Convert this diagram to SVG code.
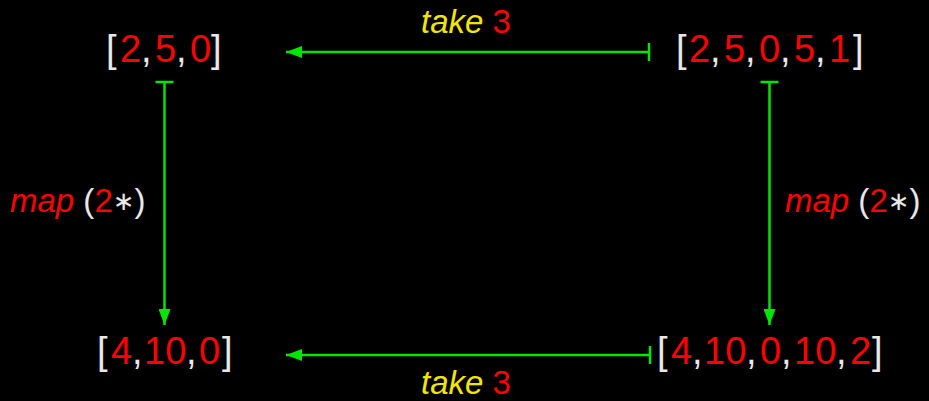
<svg xmlns="http://www.w3.org/2000/svg" width="929" height="401" viewBox="0 0 929 401">
<style>
.t{font-family:"Liberation Sans","DejaVu Sans",sans-serif;fill:#e8e8e8}
.n{font-size:38px}
.l{font-size:33px}
.r{fill:#ff0000}
.y{fill:#f2e600}
.i{font-style:italic}
.s{font-size:26px}
.e{stroke:#00e600;stroke-width:2.5;fill:none}
</style>
<defs>
<marker id="ah" viewBox="0 0 16 12" refX="16" refY="6" markerWidth="16" markerHeight="12" markerUnits="userSpaceOnUse" orient="auto">
<path d="M0,0 L16,6 L0,12 z" fill="#00e600"/>
</marker>
<marker id="bar" viewBox="0 0 4 20" refX="2" refY="10" markerWidth="4" markerHeight="20" markerUnits="userSpaceOnUse" orient="auto">
<path d="M2,1 L2,19" stroke="#00e600" stroke-width="2.5"/>
</marker>
</defs>
<rect width="929" height="401" fill="#000"/>
<g id="connectors">
<path class="e" d="M649,52 L286,52" marker-start="url(#bar)" marker-end="url(#ah)"/>
<path class="e" d="M650,355 L286,355" marker-start="url(#bar)" marker-end="url(#ah)"/>
<path class="e" d="M164.5,82 L164.5,325" marker-start="url(#bar)" marker-end="url(#ah)"/>
<path class="e" d="M769.5,82 L769.5,325" marker-start="url(#bar)" marker-end="url(#ah)"/>
<text class="t l" x="421" y="33"><tspan class="y i">take</tspan> <tspan class="r">3</tspan></text>
<text class="t l" x="421" y="394"><tspan class="y i">take</tspan> <tspan class="r">3</tspan></text>
<text class="t l" x="10" y="212"><tspan class="r i">map</tspan> (<tspan class="r">2</tspan><tspan class="s" dy="-2">∗</tspan><tspan dy="2">)</tspan></text>
<text class="t l" x="785" y="212"><tspan class="r i">map</tspan> (<tspan class="r">2</tspan><tspan class="s" dy="-2">∗</tspan><tspan dy="2">)</tspan></text>
</g>
<g id="n1"><text class="t n" y="62"><tspan x="106">[</tspan><tspan class="r" x="120">2</tspan><tspan x="141">,</tspan><tspan class="r" x="155">5</tspan><tspan x="176">,</tspan><tspan class="r" x="190">0</tspan><tspan x="211">]</tspan></text></g>
<g id="n2"><text class="t n" y="62"><tspan x="676">[</tspan><tspan class="r" x="689">2</tspan><tspan x="710">,</tspan><tspan class="r" x="724">5</tspan><tspan x="745">,</tspan><tspan class="r" x="759">0</tspan><tspan x="780">,</tspan><tspan class="r" x="794">5</tspan><tspan x="815">,</tspan><tspan class="r" x="829">1</tspan><tspan x="853">]</tspan></text></g>
<g id="n3"><text class="t n" y="364"><tspan x="97">[</tspan><tspan class="r" x="111">4</tspan><tspan x="132">,</tspan><tspan class="r" x="144">10</tspan><tspan x="186">,</tspan><tspan class="r" x="199">0</tspan><tspan x="222">]</tspan></text></g>
<g id="n4"><text class="t n" y="364"><tspan x="657">[</tspan><tspan class="r" x="671">4</tspan><tspan x="692">,</tspan><tspan class="r" x="704">10</tspan><tspan x="746">,</tspan><tspan class="r" x="760">0</tspan><tspan x="781">,</tspan><tspan class="r" x="794">10</tspan><tspan x="836">,</tspan><tspan class="r" x="850">2</tspan><tspan x="872">]</tspan></text></g>
</svg>
